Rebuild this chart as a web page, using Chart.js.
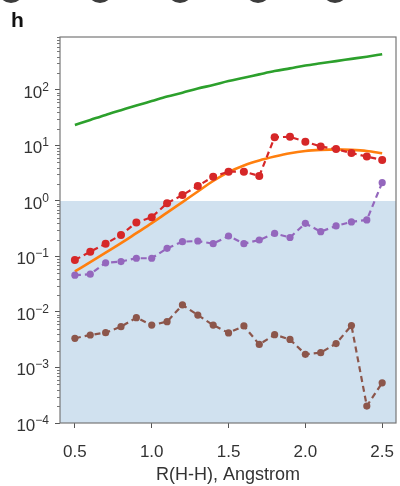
<!DOCTYPE html>
<html>
<head>
<meta charset="utf-8">
<script src="https://cdn.jsdelivr.net/npm/chart.js@4.4.1/dist/chart.umd.min.js"></script>
<style>
  html, body { margin: 0; padding: 0; background: #ffffff; }
</style>
</head>
<body>
<canvas id="my-chart" width="400" height="486"></canvas>
<script>
'use strict';

/* DATA */
let distances = [0.5, 0.6, 0.7, 0.8, 0.9, 1.0, 1.1, 1.2, 1.3, 1.4, 1.5,
  1.6, 1.7, 1.8, 1.9, 2.0, 2.1, 2.2, 2.3, 2.4, 2.5];
let greenLine = [23.4, 28.8, 35.5, 43.2, 52.5, 63.1, 75.9, 89.1, 106, 123, 145,
  166, 191, 219, 245, 275, 302, 331, 363, 398, 440];
let orangeLine = [0.0537, 0.0794, 0.1175, 0.174, 0.263, 0.398, 0.617, 0.955, 1.48, 2.29, 3.31,
  4.37, 5.37, 6.31, 7.24, 7.94, 8.32, 8.51, 8.32, 7.94, 7.24];
let redPoints = [0.0865, 0.122, 0.17, 0.244, 0.41, 0.51, 0.91, 1.28, 1.86, 2.74, 3.37,
  3.37, 2.82, 14.1, 14.3, 11.7, 9.6, 8.6, 7.3, 6.3, 5.5];
let purplePoints = [0.046, 0.048, 0.077, 0.081, 0.093, 0.093, 0.14, 0.185, 0.19, 0.17, 0.234,
  0.17, 0.198, 0.26, 0.22, 0.395, 0.28, 0.355, 0.42, 0.455, 2.14];
let brownPoints = [0.00336, 0.00385, 0.00424, 0.00544, 0.0079, 0.0058, 0.0067, 0.0134, 0.0088, 0.0058, 0.0042,
  0.0056, 0.0026, 0.0039, 0.0032, 0.00173, 0.00185, 0.0027, 0.0057, 0.000202, 0.00053];
let xTicks = [0.5, 1.0, 1.5, 2.0, 2.5];
let yTicks = [1e-4, 1e-3, 1e-2, 1e-1, 1, 1e1, 1e2];
let yExponents = ['\u22124', '\u22123', '\u22122', '\u22121', '0', '1', '2'];
let shadedRange = [1e-4, 1];

/* DOM SELECTORS */
let canvasElem = document.getElementById('my-chart').getContext('2d');

const FONT = '"Liberation Sans", Arial, sans-serif';

function toPoints(values) {
  return values.map((v, i) => ({ x: distances[i], y: v }));
}

/* PLUGINS */
let shadePlugin = {
  id: 'shade',
  beforeDatasetsDraw(chart) {
    let { ctx, chartArea, scales } = chart;
    let yTop = scales.y.getPixelForValue(shadedRange[1]);
    let yBottom = scales.y.getPixelForValue(shadedRange[0]);
    ctx.save();
    ctx.fillStyle = '#d0e1ef';
    ctx.fillRect(chartArea.left, yTop, chartArea.right - chartArea.left, yBottom - yTop);
    ctx.restore();
  },
};

let framePlugin = {
  id: 'frame',
  afterDraw(chart) {
    let { ctx, chartArea, scales } = chart;
    ctx.save();
    ctx.strokeStyle = '#777777';
    ctx.lineWidth = 1.2;
    ctx.strokeRect(chartArea.left, chartArea.top, chartArea.right - chartArea.left, chartArea.bottom - chartArea.top);

    // minor log ticks on the left axis
    ctx.lineWidth = 1;
    for (let k = -4; k <= 2; k++) {
      for (let m = 2; m <= 9; m++) {
        let v = m * Math.pow(10, k);
        if (v > scales.y.max) continue;
        let y = Math.round(scales.y.getPixelForValue(v)) + 0.5;
        ctx.beginPath();
        ctx.moveTo(chartArea.left - 3, y);
        ctx.lineTo(chartArea.left, y);
        ctx.stroke();
      }
    }

    // y labels as 10 with a raised exponent
    ctx.fillStyle = '#333333';
    ctx.textBaseline = 'alphabetic';
    let right = chartArea.left - 11;
    yTicks.forEach((v, i) => {
      let y = scales.y.getPixelForValue(v);
      ctx.font = '12px ' + FONT;
      let ew = ctx.measureText(yExponents[i]).width;
      ctx.textAlign = 'left';
      ctx.fillText(yExponents[i], right - ew, y + 1);
      ctx.font = '17px ' + FONT;
      ctx.textAlign = 'right';
      ctx.fillText('10', right - ew, y + 8);
    });

    // panel letter and the cut-off marks of the panel above
    ctx.fillStyle = '#111111';
    ctx.font = 'bold 21px ' + FONT;
    ctx.textAlign = 'left';
    ctx.textBaseline = 'top';
    ctx.fillText('h', 11, 11);
    ctx.fillStyle = '#3c3c3c';
    [11, 100, 180, 258, 335].forEach((cx) => {
      ctx.beginPath();
      ctx.ellipse(cx, -8, 12, 11, 0, 0, Math.PI * 2);
      ctx.fill();
    });
    ctx.restore();
  },
};

/* CHART.JS LOGIC */
function lineSet(values, color, dashed, radius) {
  return {
    data: toPoints(values),
    borderColor: color,
    backgroundColor: color,
    borderWidth: dashed ? 2.2 : 2.6,
    borderDash: dashed ? [6, 4] : [],
    pointRadius: radius,
    pointBorderWidth: 0,
    tension: dashed ? 0 : 0.4,
    cubicInterpolationMode: dashed ? 'default' : 'monotone',
    fill: false,
  };
}

function renderChart() {
  Chart.defaults.font.family = FONT;
  Chart.defaults.color = '#333333';

  let myChartObj = {
    type: 'line',
    data: {
      datasets: [
        lineSet(brownPoints, '#8c564b', true, 3.6),
        lineSet(purplePoints, '#9467bd', true, 3.6),
        lineSet(redPoints, '#d62728', true, 4),
        lineSet(orangeLine, '#ff7f0e', false, 0),
        lineSet(greenLine, '#2ca02c', false, 0),
      ],
    },
    options: {
      responsive: false,
      animation: false,
      layout: {
        padding: { top: 37, right: 2, left: 0, bottom: 0 },
      },
      plugins: {
        legend: { display: false },
        tooltip: { enabled: false },
      },
      scales: {
        x: {
          type: 'linear',
          min: 0.403,
          max: 2.59,
          afterBuildTicks: (scale) => {
            scale.ticks = xTicks.map((v) => ({ value: v }));
          },
          afterFit: (scale) => {
            scale.height = 63;
            scale.paddingLeft = 0;
            scale.paddingRight = 0;
          },
          ticks: {
            callback: (v) => v.toFixed(1),
            font: { size: 17 },
            padding: 14,
            maxRotation: 0,
          },
          grid: {
            drawOnChartArea: false,
            tickLength: 5,
            color: '#555555',
          },
          border: { display: false },
          title: {
            display: true,
            text: 'R(H-H), Angstrom',
            font: { size: 18 },
            padding: { top: 0, bottom: 0 },
          },
        },
        y: {
          type: 'logarithmic',
          min: 1e-4,
          max: 900,
          afterBuildTicks: (scale) => {
            scale.ticks = yTicks.map((v) => ({ value: v }));
          },
          afterFit: (scale) => {
            scale.width = 60;
            scale.paddingTop = 0;
            scale.paddingBottom = 0;
          },
          ticks: { display: false },
          grid: {
            drawOnChartArea: false,
            tickLength: 5,
            color: '#555555',
          },
          border: { display: false },
        },
      },
    },
    plugins: [shadePlugin, framePlugin],
  };
  new Chart(canvasElem, myChartObj);
}
renderChart();
</script>
</body>
</html>
